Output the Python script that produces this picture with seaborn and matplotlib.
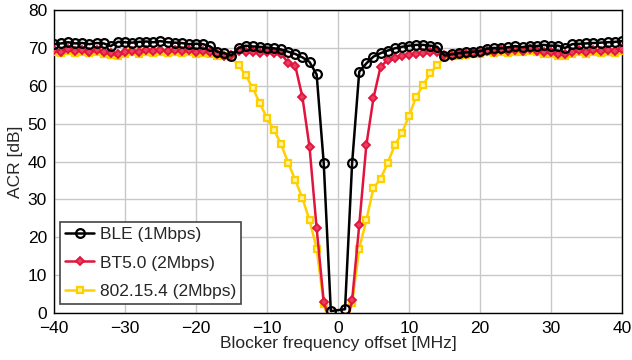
import numpy as np
import pandas as pd
import matplotlib
matplotlib.use("Agg")
import matplotlib.pyplot as plt
import seaborn as sns

# Blocker frequency offsets [MHz] (0 MHz not measured)
offsets = list(range(-40, 0)) + list(range(1, 41))

ble_left = [71.0, 71.2, 71.5, 71.2, 71.3, 71.0, 71.3, 71.2, 70.5, 71.6,
            71.5, 71.4, 71.6, 71.7, 71.5, 71.8, 71.5, 71.4, 71.3, 71.0,
            71.1, 71.0, 70.4, 69.0, 68.6, 68.0, 70.0, 70.6, 70.4, 70.3,
            70.1, 69.9, 69.6, 69.0, 68.4, 67.5, 66.3, 63.0, 39.6, 0.5]
ble_right = [1.0, 39.6, 63.7, 65.9, 67.7, 68.6, 69.3, 69.9, 70.3, 70.6,
             70.8, 70.8, 70.6, 70.3, 68.0, 68.3, 68.6, 68.8, 69.0, 69.1,
             69.8, 70.0, 69.9, 70.2, 70.5, 70.2, 70.6, 70.5, 70.8, 70.6,
             70.6, 70.0, 71.0, 71.1, 71.2, 71.3, 71.4, 71.5, 71.6, 71.8]

bt5_left = [69.5, 69.0, 69.6, 69.1, 69.5, 69.0, 69.4, 69.0, 68.6, 68.3,
            68.9, 69.3, 69.0, 69.4, 69.1, 69.5, 69.2, 69.5, 69.1, 69.4,
            69.0, 69.3, 68.9, 68.4, 68.0, 68.2, 69.2, 68.8, 68.9, 68.7,
            68.8, 68.6, 68.5, 66.0, 65.2, 57.0, 43.8, 22.4, 3.0, -3.0]
bt5_right = [-4.0, 3.4, 23.2, 44.3, 56.7, 65.0, 66.8, 67.3, 67.8, 68.2,
             68.5, 68.6, 68.8, 68.9, 68.2, 68.0, 68.3, 68.5, 68.6, 68.7,
             69.2, 69.0, 69.4, 69.1, 69.5, 69.2, 69.6, 69.3, 69.0, 68.8,
             68.5, 68.3, 68.8, 69.4, 69.0, 69.5, 69.1, 69.5, 69.2, 69.6]

zb_left = [69.0, 68.6, 69.1, 68.7, 69.0, 68.6, 68.9, 68.5, 68.2, 68.0,
           68.4, 68.8, 68.5, 68.9, 68.6, 69.0, 68.7, 69.0, 68.6, 68.9,
           68.5, 68.7, 68.4, 68.0, 67.8, 67.5, 65.4, 62.8, 59.4, 55.4,
           51.5, 48.3, 44.6, 39.6, 35.1, 30.3, 24.5, 17.0, 2.4, -4.0]
zb_right = [-4.0, 2.6, 17.0, 24.5, 33.0, 35.4, 39.6, 44.3, 47.5, 52.0,
            57.0, 60.2, 63.3, 65.4, 67.5, 67.8, 68.0, 68.2, 68.3, 68.4,
            68.8, 68.6, 69.0, 68.7, 69.0, 68.8, 69.1, 68.8, 68.5, 68.3,
            68.0, 67.8, 68.3, 68.9, 68.5, 69.0, 68.6, 69.0, 68.7, 69.1]

series_names = ["BLE (1Mbps)", "BT5.0 (2Mbps)", "802.15.4 (2Mbps)"]
x_ticks = [-40, -30, -20, -10, 0, 10, 20, 30, 40]
y_ticks = [0, 10, 20, 30, 40, 50, 60, 70, 80]

sns.set_theme(style="whitegrid")
plt.rcParams["font.family"] = ["Liberation Sans", "DejaVu Sans"]

fig = plt.figure(figsize=(6.32, 3.6), dpi=100)
ax = fig.add_axes([0.0854, 0.1306, 0.8986, 0.8414])

styles = [
    dict(color="#000000", marker="o", markersize=6.3, markerfacecolor="none",
         markeredgecolor="#000000", markeredgewidth=1.6, zorder=5),
    dict(color="#E0143C", marker="D", markersize=4.5, markerfacecolor="#E8405F",
         markeredgecolor="#E0143C", markeredgewidth=1.3, zorder=4),
    dict(color="#FFD000", marker="s", markersize=4.8, markerfacecolor="#FFF3A8",
         markeredgecolor="#FFD000", markeredgewidth=1.6, zorder=3),
]
values = [ble_left + ble_right, bt5_left + bt5_right, zb_left + zb_right]

for name, vals, st in zip(series_names, values, styles):
    df = pd.DataFrame({"offset": offsets, "acr": vals})
    sns.lineplot(data=df, x="offset", y="acr", ax=ax, label=name,
                 linewidth=1.8, **st)

ax.set_xlim(-40, 40)
ax.set_ylim(0, 80)
ax.set_xticks(x_ticks)
ax.set_yticks(y_ticks)
ax.set_xlabel("Blocker frequency offset [MHz]", fontsize=12.5, labelpad=0)
ax.set_ylabel("ACR [dB]", fontsize=12.5, labelpad=3)
ax.tick_params(axis="both", labelsize=12.5, colors="#000000", length=0)
ax.tick_params(axis="x", pad=6)
ax.tick_params(axis="y", pad=5)
ax.grid(True, color="#c8c8c8", linewidth=1.0)
ax.set_facecolor("white")
for s in ax.spines.values():
    s.set_color("#000000")
    s.set_linewidth(1.0)
    s.set_visible(True)

leg = ax.legend(loc="lower left", bbox_to_anchor=(0.01, 0.03), fontsize=12.5,
                frameon=True, fancybox=False, borderpad=0.3, labelspacing=0.75,
                handlelength=1.7, handletextpad=0.3, borderaxespad=0.0)
leg.get_frame().set_edgecolor("#444444")
leg.get_frame().set_linewidth(1.2)
leg.get_frame().set_alpha(1.0)

fig.savefig("out.png", dpi=100, facecolor="white")
